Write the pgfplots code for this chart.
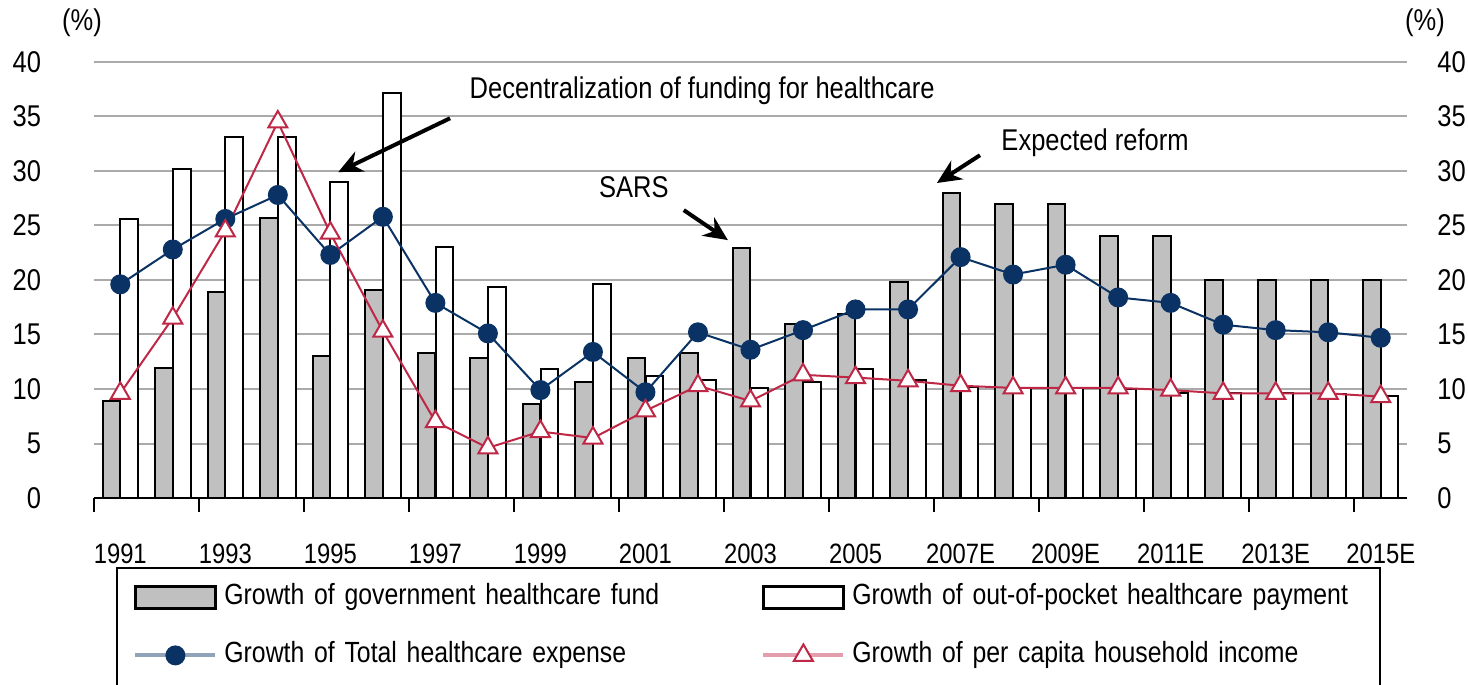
\documentclass[border=0pt]{standalone}
\usepackage{fontspec}
\setmainfont{Liberation Sans}
\newfontfamily\cf{Liberation Sans}[FakeStretch=0.85]
\usepackage{pgfplots}
\usepackage{pgfplotstable}
\pgfplotsset{compat=1.18}
\usetikzlibrary{arrows.meta}
\definecolor{govgray}{RGB}{192,192,192}
\definecolor{navy}{RGB}{10,50,100}
\definecolor{incred}{RGB}{190,40,70}
\definecolor{gridgray}{RGB}{170,170,170}

\pgfplotstableread{
year gov oop total income
1991 8.9 25.6 19.6 9.6
1992 11.9 30.2 22.8 16.5
1993 18.9 33.1 25.6 24.5
1994 25.7 33.1 27.8 34.5
1995 13.0 29.0 22.3 24.3
1996 19.1 37.2 25.8 15.3
1997 13.3 23.0 17.9 7.0
1998 12.8 19.4 15.1 4.6
1999 8.6 11.8 9.9 6.1
2000 10.6 19.6 13.4 5.5
2001 12.8 11.2 9.7 8.0
2002 13.3 10.8 15.2 10.3
2003 22.9 10.1 13.6 8.9
2004 16.0 10.6 15.4 11.3
2005 16.9 11.8 17.3 11.05
2006 19.8 10.8 17.3 10.75
2007 28.0 10.2 22.1 10.3
2008 27.0 10.1 20.5 10.1
2009 27.0 10.1 21.4 10.1
2010 24.0 10.0 18.4 10.1
2011 24.0 9.6 17.9 9.9
2012 20.0 9.6 15.9 9.6
2013 20.0 9.6 15.4 9.6
2014 20.0 9.55 15.2 9.6
2015 20.0 9.4 14.7 9.3
}\data

\newcommand{\tf}{\cf\fontsize{15}{18}\selectfont}
\newcommand{\lf}{\cf\fontsize{14.6}{18}\selectfont}

\begin{document}
\begin{tikzpicture}
\useasboundingbox (-47pt,-93.5pt) rectangle (687pt,249pt);
\begin{axis}[
  scale only axis, width=656.5pt, height=218pt,
  xmin=1990.5, xmax=2015.5, ymin=0, ymax=40,
  axis x line*=bottom, axis y line*=left,
  y axis line style={draw=none},
  x axis line style={black, line width=1pt, -},
  ytick={0,5,...,40},
  ymajorgrids, grid style={gridgray, line width=1pt},
  ytick style={draw=none},
  yticklabel style={font=\tf, xshift=-16pt},
  /pgf/number format/assume math mode=true,
  xtick={1990.5,1992.5,...,2014.5},
  xticklabels={1991,1993,1995,1997,1999,2001,2003,2005,2007E,2009E,2011E,2013E,2015E},
  xticklabel style={font=\cf\fontsize{14}{17}\selectfont, xshift=13.13pt, yshift=-12.5pt},
  xtick style={black, line width=1pt},
  tick align=outside, major tick length=7pt,
  legend columns=2,
  legend cell align=left,
  legend style={at={(0.01752,-0.16055)}, anchor=north west, draw=none, fill=none,
    inner xsep=8pt, inner ysep=8pt, column sep=3.5pt, row sep=16pt,
    nodes={inner xsep=0pt, inner ysep=0pt, text width=265pt, text height=10pt, text depth=3pt, font=\lf}},
]
\addplot[fill=govgray, draw=black, line width=1pt, ybar, bar width=0.335, bar shift=-0.17,
  legend image code/.code={\draw[fill=govgray, draw=black, line width=1.2pt] (0pt,-5.5pt) rectangle (40pt,5.5pt);}]
  table[x=year, y=gov] {\data};
\addlegendentry{Growth of government healthcare fund}
\addplot[fill=white, draw=black, line width=1pt, ybar, bar width=0.335, bar shift=0.17,
  legend image code/.code={\draw[fill=white, draw=black, line width=1.2pt] (0pt,-5.5pt) rectangle (40pt,5.5pt);}]
  table[x=year, y=oop] {\data};
\addlegendentry{Growth of out-of-pocket healthcare payment}
\addplot[navy, line width=1pt, mark=*, mark size=4.5pt, mark options={fill=navy, draw=navy},
  legend image code/.code={\draw[navy!45, line width=2pt] (0pt,0pt) -- (40pt,0pt); \fill[navy] (20pt,0pt) circle (4.5pt);}]
  table[x=year, y=total] {\data};
\addlegendentry{Growth of Total healthcare expense}
\addplot[incred, line width=1pt, mark=triangle*, mark size=5.5pt, mark options={fill=white, draw=incred, line width=1pt},
  legend image code/.code={\draw[incred!45, line width=2pt] (0pt,0pt) -- (40pt,0pt); \draw[incred, fill=white, line width=1pt] plot[mark=triangle*, mark size=5.5pt] coordinates {(20pt,0pt)};}]
  table[x=year, y=income] {\data};
\addlegendentry{Growth of per capita household income}

\draw[-{Stealth[length=12pt,width=11pt]}, line width=2pt] (axis cs:1997.28,34.84) -- (axis cs:1995.15,29.9);
\draw[-{Stealth[length=12pt,width=11pt]}, line width=2pt] (axis cs:2001.73,26.41) -- (axis cs:2002.57,23.66);
\draw[-{Stealth[length=12pt,width=11pt]}, line width=2pt] (axis cs:2007.37,31.45) -- (axis cs:2006.55,28.9);
\node[font=\tf] at (axis cs:2002.08,37.4) {Decentralization of funding for healthcare};
\node[font=\tf] at (axis cs:2000.78,28.5) {SARS};
\node[font=\tf] at (axis cs:2009.56,32.6) {Expected reform};
\end{axis}
\begin{axis}[
  scale only axis, width=656.5pt, height=218pt,
  xmin=1990.5, xmax=2015.5, ymin=0, ymax=40,
  hide x axis, axis y line*=right,
  y axis line style={draw=none},
  ytick={0,5,...,40},
  ytick style={draw=none},
  yticklabel style={font=\tf, anchor=west, inner xsep=0pt, xshift=15pt},
  /pgf/number format/assume math mode=true,
]
\end{axis}
\node[font=\tf] at (-6pt,237.5pt) {(\%)};
\node[font=\tf] at (665.5pt,237.5pt) {(\%)};
\draw[line width=1pt] (11.5pt,-130pt) -- (11.5pt,-35pt) -- (643pt,-35pt) -- (643pt,-130pt);
\end{tikzpicture}
\end{document}
